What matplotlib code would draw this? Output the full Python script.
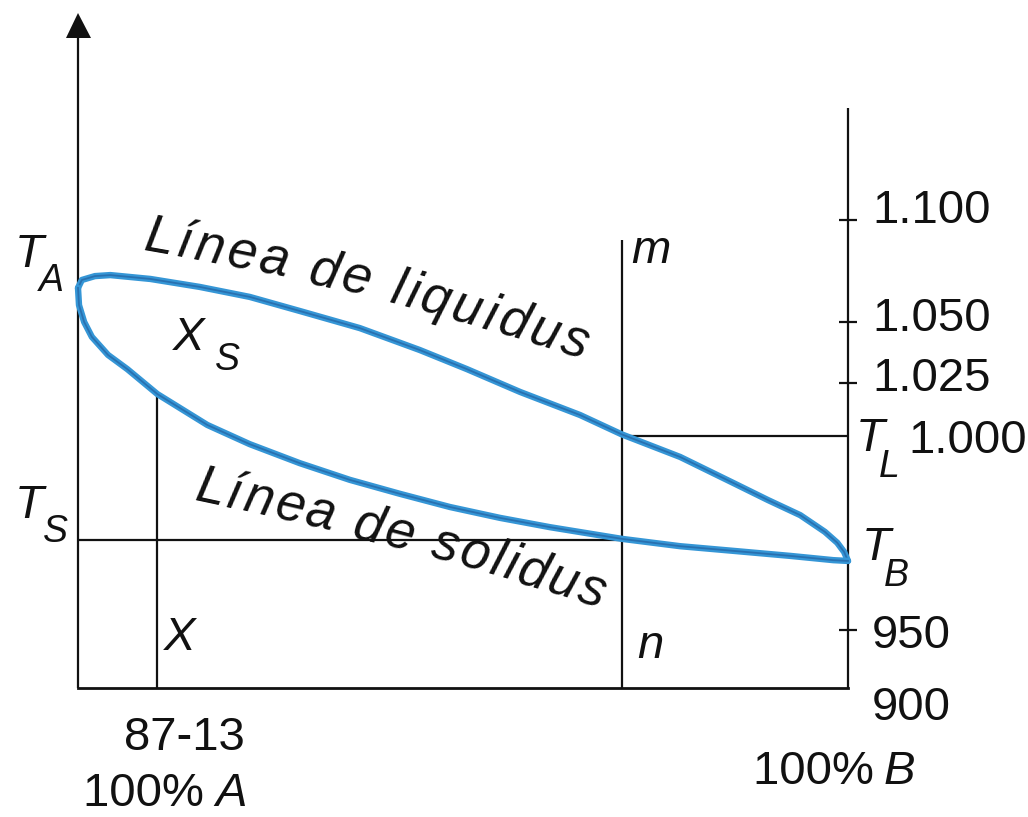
import numpy as np
import matplotlib
matplotlib.use("Agg")
import matplotlib.pyplot as plt
from matplotlib.font_manager import FontProperties, findfont
from matplotlib.ft2font import FT2Font

plt.rcParams['font.family'] = ['Liberation Sans', 'DejaVu Sans']

# ---------------- data (composition in % B, temperature) ----------------
liq_comp = [0, 0.5, 2.2, 4.2, 9.4, 15.8, 22.3, 28.8, 36.6, 44.4, 50.5, 57.4,
            65.2, 70.6, 78.2, 85.1, 89.6, 93.8, 97.0, 98.6, 99.5, 100]
liq_temp = [1066.7, 1070.6, 1072.5, 1073.0, 1071.1, 1067.2, 1062.3, 1055.4,
            1047.5, 1038.5, 1030.7, 1020.8, 1009.9, 1000.8, 994.6, 987.9,
            983.5, 979.6, 975.3, 972.5, 970.1, 967.8]
sol_comp = [0, 0.13, 0.8, 1.8, 3.9, 6.4, 10.3, 16.8, 22.3, 28.8, 35.3, 41.8,
            48.3, 54.8, 61.3, 70.6, 78.2, 85.1, 92.5, 98.1, 100]
sol_temp = [1066.7, 1058.3, 1050.0, 1043.9, 1036.5, 1030.7, 1019.8, 1005.2,
            997.9, 993.0, 988.7, 985.1, 981.7, 978.9, 976.5, 973.5, 971.6,
            970.4, 969.1, 968.0, 967.8]

comp_A, comp_B = 0, 100          # pure A, pure B
comp_X = 10.3                    # alloy X
comp_mn = 70.6                   # alloy m-n
T_base = 900
T_L = 1000
T_S = 973.2
T_X_top = 1019.5
T_mn_top = 1090.2
T_right_top = 1154.9
T_left_top = 1195.6

tick_temps = [900, 950, 1000, 1025, 1050, 1100]
tick_labels = ['900', '950', '1.000', '1.025', '1.050', '1.100']
marked_ticks = [950, 1025, 1050, 1100]

# ---------------- schematic (non-linear) temperature scale ----------------
anch_T = np.array(tick_temps, float)
anch_h = np.array([0, 58, 252, 305, 366, 468], float)
lo_s = (anch_h[1] - anch_h[0]) / (anch_T[1] - anch_T[0])
hi_s = (anch_h[-1] - anch_h[-2]) / (anch_T[-1] - anch_T[-2])


def fwd(T):
    T = np.asarray(T, float)
    h = np.interp(T, anch_T, anch_h)
    h = np.where(T < anch_T[0], anch_h[0] + (T - anch_T[0]) * lo_s, h)
    h = np.where(T > anch_T[-1], anch_h[-1] + (T - anch_T[-1]) * hi_s, h)
    return h


def inv(h):
    h = np.asarray(h, float)
    T = np.interp(h, anch_h, anch_T)
    T = np.where(h < anch_h[0], anch_T[0] + (h - anch_h[0]) / lo_s, T)
    T = np.where(h > anch_h[-1], anch_T[-1] + (h - anch_h[-1]) / hi_s, T)
    return T


W, H = 1028, 817
DPI = 100
fig = plt.figure(figsize=(W / DPI, H / DPI), dpi=DPI)
fig.patch.set_facecolor('white')
ax = fig.add_axes([0, 0, 1, 1])
ax.set_yscale('function', functions=(fwd, inv))
ax.set_xlim(-78 / 7.7, 950 / 7.7)
ax.set_ylim(float(inv(-129)), float(inv(688)))
ax.axis('off')

INK = '#111111'
blk = dict(color=INK, lw=1.6, solid_capstyle='butt')

# frame lines
ax.plot([comp_A, comp_A], [T_base, T_left_top], **blk)
ax.plot([comp_A], [T_left_top], marker='^', ms=18, color=INK, mew=0)
ax.plot([comp_B, comp_B], [T_base, T_right_top], **blk)
ax.plot([comp_A, comp_B], [T_base, T_base], color=INK, lw=2.0)
ax.plot([comp_X, comp_X], [T_base, T_X_top], **blk)
ax.plot([comp_mn, comp_mn], [T_base, T_mn_top], **blk)
ax.plot([comp_mn, comp_B], [T_L, T_L], **blk)
ax.plot([comp_A, comp_mn], [T_S, T_S], **blk)
ax.plot([comp_B] * len(marked_ticks), marked_ticks, ls='none', marker='_',
        ms=13, mew=1.6, color=INK)

# liquidus / solidus lens
for c, t in ((liq_comp, liq_temp), (sol_comp, sol_temp)):
    ax.plot(c, t, color='#3596d6', lw=4.6, solid_joinstyle='round',
            solid_capstyle='round')
    ax.plot(c, t, color='#2461a0', lw=1.3, alpha=0.7,
            solid_joinstyle='round')


def put(px, py, s, size=34, **kw):
    kw.setdefault('va', 'baseline')
    kw.setdefault('ha', 'left')
    fig.text(px / W, 1 - py / H, s, fontsize=size, color=INK, **kw)


def sym(px, py, main, sub, dx, dy, size=34, subsize=27):
    put(px, py, main, size=size, style='italic')
    if sub:
        put(px + dx, py + dy, sub, size=subsize, style='italic')


def put_arc(px, py, text, size, r0, r1, track):
    """Place italic text letter by letter along a gently bending baseline."""
    fp = FontProperties(family='Liberation Sans', style='italic')
    font = FT2Font(findfont(fp))
    font.set_size(size, DPI)
    n = len(text)
    x, y = float(px), float(py)
    for i, ch in enumerate(text):
        r = r0 + (r1 - r0) * (i / max(n - 1, 1))
        if ch != ' ':
            put(x, y, ch, size=size, style='italic', rotation=r,
                rotation_mode='anchor')
        adv = font.load_char(ord(ch)).linearHoriAdvance / 65536.0 + track
        rad = np.deg2rad(r)
        x += adv * np.cos(rad)
        y -= adv * np.sin(rad)


# right-hand tick labels
lab_pos = {'1.100': (872, 223), '1.050': (872, 331), '1.025': (872, 391),
           '1.000': (908, 453), '950': (872, 648), '900': (872, 720)}
for lab in tick_labels:
    px, py = lab_pos[lab]
    put(px, py, lab)

# symbols
sym(15, 267, 'T', 'A', 24, 24)
sym(15, 518, 'T', 'S', 28, 24)
sym(856, 451, 'T', 'L', 23, 26)
sym(862, 560, 'T', 'B', 22, 26)
sym(173, 350, 'X', 'S', 42, 20)
sym(164, 650, 'X', None, 0, 0)
sym(631, 263, 'm', None, 0, 0)
sym(637, 658, 'n', None, 0, 0)

# bottom labels
put(124, 750, '87-13')
put(83, 806, '100% ')
put(215, 806, 'A', style='italic')
put(753, 784, '100% ')
put(884, 784, 'B', style='italic')

# curve labels
put_arc(142, 250, 'Línea de liquidus', 38, -10, -18, 3.5)
put_arc(193, 500, 'Línea de solidus', 38, -12, -18, 2.5)

fig.savefig('out.png', dpi=DPI, facecolor='white')
